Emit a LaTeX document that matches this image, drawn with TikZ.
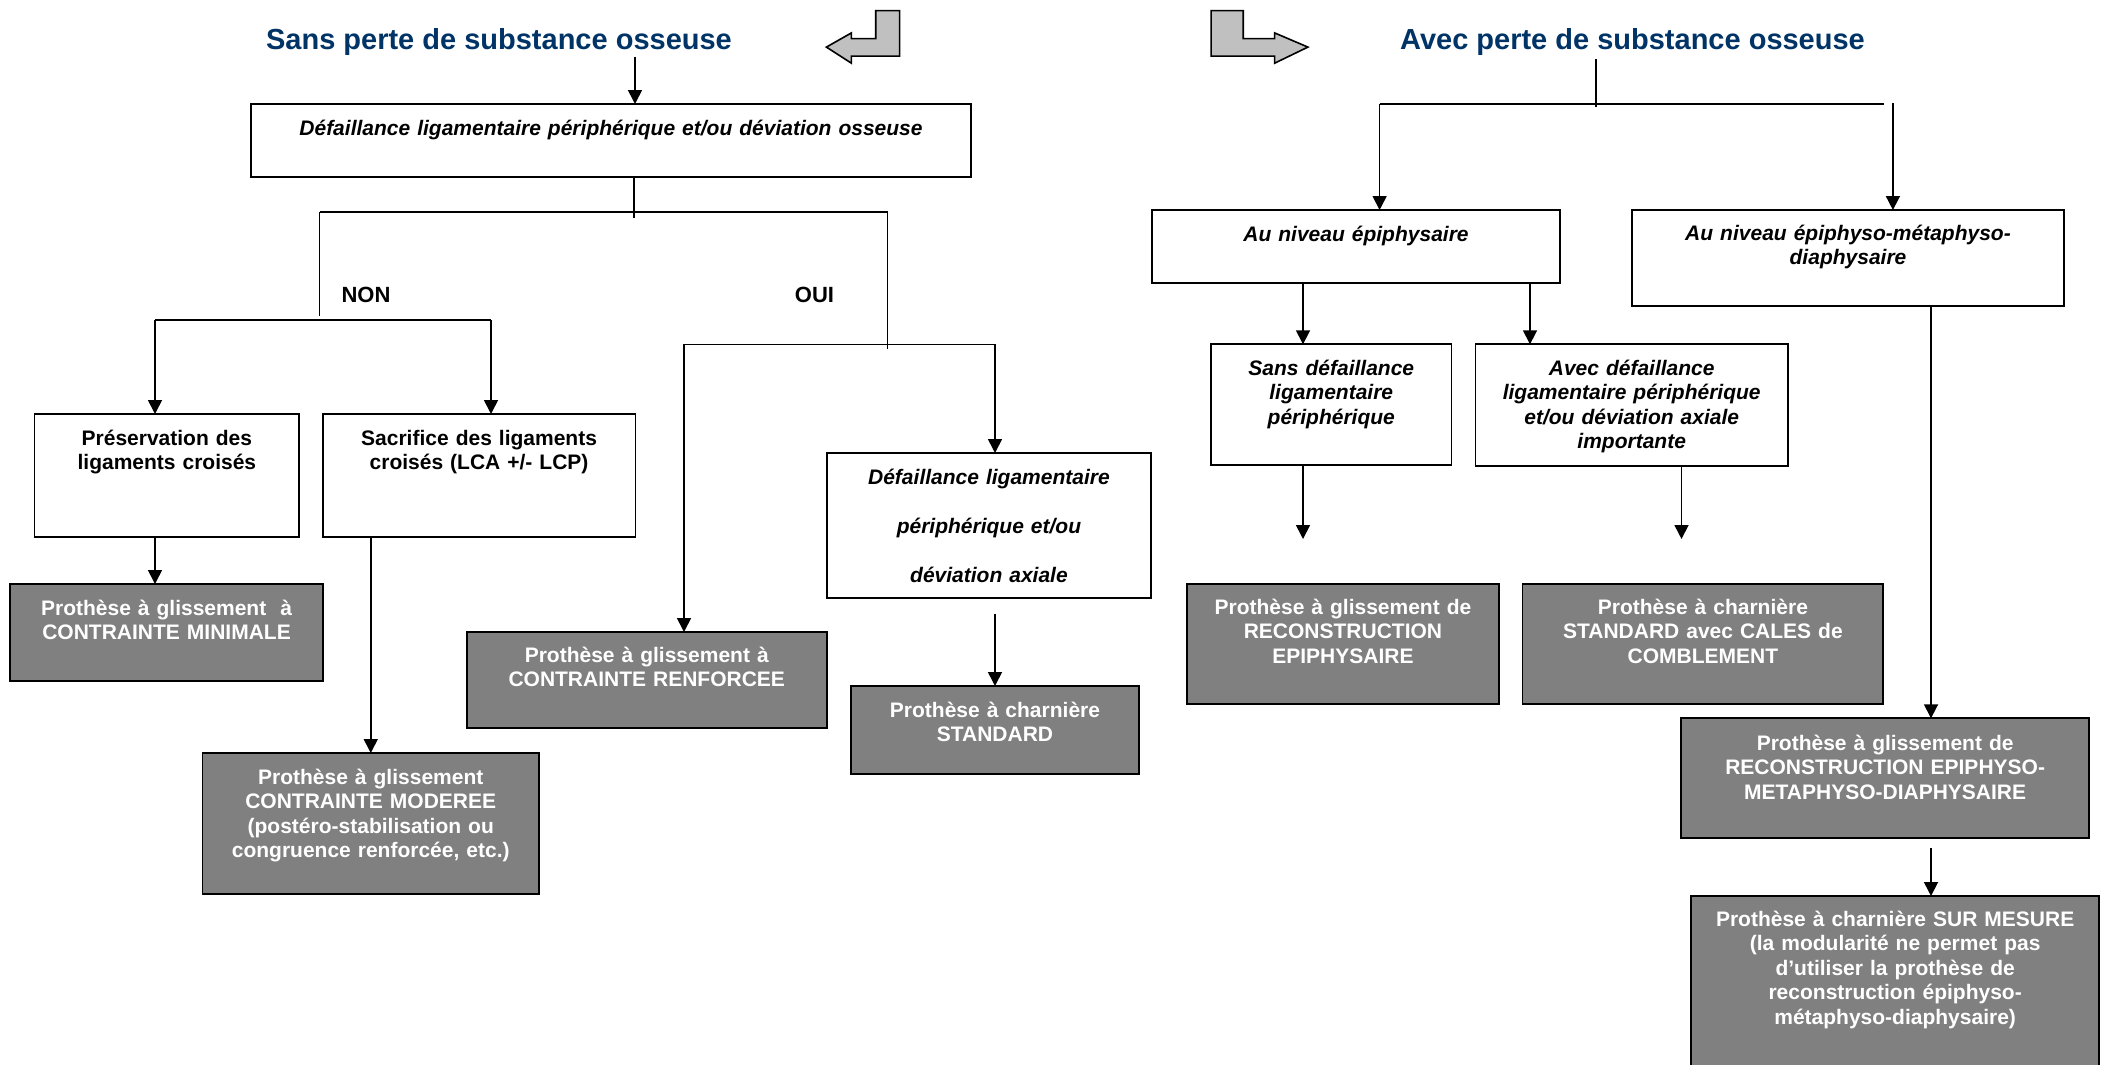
\documentclass[tikz,border=0pt]{standalone}
\usepackage{fontspec}
\setmainfont{Liberation Sans}
\usetikzlibrary{arrows.meta}
\definecolor{titleblue}{RGB}{0,51,102}
\definecolor{boxgray}{RGB}{128,128,128}
\definecolor{arrowgray}{RGB}{192,192,192}
\begin{document}
\begin{tikzpicture}[x=1pt,y=-1pt,
  wbox/.style={draw=black,line width=1.8pt,fill=white,inner sep=0pt,outer sep=0pt},
  gbox/.style={draw=black,line width=1.8pt,fill=boxgray,inner sep=0pt,outer sep=0pt},
  txt/.style={inner sep=0pt,align=center,anchor=base,text width=#1,font=\fontsize{21}{24.5}\selectfont\bfseries},
  itxt/.style={txt=#1,font=\fontsize{21}{24.5}\selectfont\bfseries\itshape},
  gtxt/.style={txt=#1,text=white},
  conn/.style={line width=1.7pt,draw=black},
  arr/.style={conn,-{Triangle[length=14pt,width=14pt]}},
  ttl/.style={inner sep=0pt,anchor=base,text=titleblue,font=\fontsize{29}{34}\selectfont\bfseries},
  lbl/.style={inner sep=0pt,anchor=base,font=\fontsize{22}{26}\selectfont\bfseries},
  bent/.style={draw=black,fill=arrowgray,line width=1.6pt,line join=miter}
]
\useasboundingbox (0,0) rectangle (2109,1065);

% titles
\node[ttl] (T1) at (499,50) {Sans perte de substance osseuse};
\node[ttl] (T2) at (1632.5,50) {Avec perte de substance osseuse};

% bent arrows
\draw[bent] (899.6,10.7) -- (875.7,10.7) -- (875.7,38.6) -- (851.4,38.6) -- (851.4,32.9) -- (826.4,47.1) -- (851.4,63.2) -- (851.4,56.1) -- (899.6,56.1) -- cycle;
\draw[bent] (1211.1,10.7) -- (1243.2,10.7) -- (1243.2,38.6) -- (1274.6,38.6) -- (1274.6,32.9) -- (1307.9,47.1) -- (1274.6,63.2) -- (1274.6,56.1) -- (1211.1,56.1) -- cycle;

% left side boxes
\node[wbox,minimum width=720pt,minimum height=73pt] (A) at (611,140.5) {};
\node[itxt=700pt] (At) at (611,135) {Défaillance ligamentaire périphérique et/ou déviation osseuse};

\node[wbox,minimum width=264.8pt,minimum height=123pt] (B) at (166.9,475.5) {};
\node[txt=250pt] (Bt) at (166.9,445) {Préservation des\\ligaments croisés};
\node[wbox,minimum width=312.6pt,minimum height=123pt] (C) at (479.1,475.5) {};
\node[txt=300pt] (Ct) at (479.1,445) {Sacrifice des ligaments\\croisés (LCA +/- LCP)};
\node[gbox,minimum width=312.5pt,minimum height=97pt] (D) at (166.55,632.5) {};
\node[gtxt=300pt] (Dt) at (166.55,615) {Prothèse à glissement\ \ à\\CONTRAINTE MINIMALE};
\node[gbox,minimum width=336.5pt,minimum height=141pt] (E) at (370.75,823.5) {};
\node[gtxt=320pt] (Et) at (370.75,784) {Prothèse à glissement\\CONTRAINTE MODEREE\\(postéro-stabilisation ou\\congruence renforcée, etc.)};
\node[gbox,minimum width=360.3pt,minimum height=96pt] (F) at (646.75,680) {};
\node[gtxt=345pt] (Ft) at (646.75,662) {Prothèse à glissement à\\CONTRAINTE RENFORCEE};
\node[wbox,minimum width=324.1pt,minimum height=144.6pt] (G) at (988.95,525.3) {};
\node[itxt=310pt,font=\fontsize{21}{49}\selectfont\bfseries\itshape] (Gt) at (988.95,484) {Défaillance ligamentaire\\périphérique et/ou\\déviation axiale};
\node[gbox,minimum width=288pt,minimum height=88pt] (H) at (995,730) {};
\node[gtxt=275pt] (Ht) at (995,717) {Prothèse à charnière\\STANDARD};

% right side boxes
\node[wbox,minimum width=408pt,minimum height=73pt] (I) at (1356,246.5) {};
\node[itxt=395pt] (It) at (1356,241) {Au niveau épiphysaire};
\node[wbox,minimum width=432pt,minimum height=96pt] (J) at (1848,258) {};
\node[itxt=420pt] (Jt) at (1848,240) {Au niveau épiphyso-métaphyso-\\diaphysaire};
\node[wbox,minimum width=240.5pt,minimum height=120.7pt] (K) at (1331.25,404.65) {};
\node[itxt=230pt] (Kt) at (1331.25,375) {Sans défaillance\\ligamentaire\\périphérique};
\node[wbox,minimum width=312.6pt,minimum height=121.7pt] (L) at (1631.7,405.15) {};
\node[itxt=300pt] (Lt) at (1631.7,375) {Avec défaillance\\ligamentaire périphérique\\et/ou déviation axiale\\importante};
\node[gbox,minimum width=312.5pt,minimum height=120.3pt] (M) at (1342.95,644.15) {};
\node[gtxt=300pt] (Mt) at (1342.95,614) {Prothèse à glissement de\\RECONSTRUCTION\\EPIPHYSAIRE};
\node[gbox,minimum width=360.8pt,minimum height=120.3pt] (N) at (1702.9,644.15) {};
\node[gtxt=345pt] (Nt) at (1702.9,614) {Prothèse à charnière\\STANDARD avec CALES de\\COMBLEMENT};
\node[gbox,minimum width=408.3pt,minimum height=120pt] (P) at (1885.15,778.3) {};
\node[gtxt=395pt] (Pt) at (1885.15,750) {Prothèse à glissement de\\RECONSTRUCTION EPIPHYSO-\\METAPHYSO-DIAPHYSAIRE};
\node[fill=boxgray,inner sep=0pt,outer sep=0pt,minimum width=408.3pt,minimum height=172pt] (Q) at (1895.15,982) {};
\draw[line width=1.8pt] (Q.south west) -- (Q.north west) -- (Q.north east) -- (Q.south east);
\node[gtxt=395pt] (Qt) at (1895.15,926) {Prothèse à charnière SUR MESURE\\(la modularité ne permet pas\\d’utiliser la prothèse de\\reconstruction épiphyso-\\métaphyso-diaphysaire)};

% labels
\node[lbl] (NON) at (366,302) {NON};
\node[lbl] (OUI) at (814.5,302) {OUI};

% left connectors
\coordinate (c1) at (635,57);
\draw[arr] (c1) -- (c1 |- A.north);
\coordinate (jA) at (634,218);
\draw[conn] (A.south -| jA) -- (jA);
\coordinate (hL) at (319.5,212);
\coordinate (hR) at (887.5,212);
\draw[conn] (hL) -- (hR);
\coordinate (nonE) at (319.5,316);
\draw[conn] (hL) -- (nonE);
\coordinate (ouiE) at (887.5,349);
\draw[conn] (hR) -- (ouiE);
\coordinate (nL) at (155,320);
\coordinate (nR) at (491,320);
\draw[conn] (nL) -- (nR);
\draw[arr] (nL) -- (nL |- B.north);
\draw[arr] (nR) -- (nR |- C.north);
\draw[arr] (B.south -| nL) -- (D.north -| nL);
\draw[arr] (C.south -| E.north) -- (E.north);
\coordinate (oL) at (684,344.4);
\coordinate (oR) at (995,344.4);
\draw[conn] (oL) -- (oR);
\draw[arr] (oL) -- (oL |- F.north);
\draw[arr] (oR) -- (oR |- G.north);
\draw[arr] ([yshift=-16pt]G.south -| H.north) -- (H.north);

% right connectors
\coordinate (t2a) at (1596,59);
\coordinate (t2b) at (1596,107);
\draw[conn] (t2a) -- (t2b);
\coordinate (rL) at (1379.6,104.3);
\coordinate (rR) at (1884,104.3);
\draw[conn] (rL) -- (rR);
\draw[arr] (rL) -- (rL |- I.north);
\coordinate (rR2) at (1892.9,103);
\draw[arr] (rR2) -- (rR2 |- J.north);
\coordinate (xK) at (1303,0);
\coordinate (xL) at (1530,0);
\draw[arr] (I.south -| xK) -- (K.north -| xK);
\draw[arr] (I.south -| xL) -- (L.north -| xL);
\coordinate (xM) at (1303,539);
\draw[arr] (K.south -| xM) -- (xM);
\coordinate (xN) at (1681.5,539);
\draw[arr] (L.south -| xN) -- (xN);
\coordinate (xP) at (1931,0);
\draw[arr] (J.south -| xP) -- (P.north -| xP);
\draw[arr] ([yshift=-10pt]P.south -| xP) -- (Q.north -| xP);
\end{tikzpicture}
\end{document}
